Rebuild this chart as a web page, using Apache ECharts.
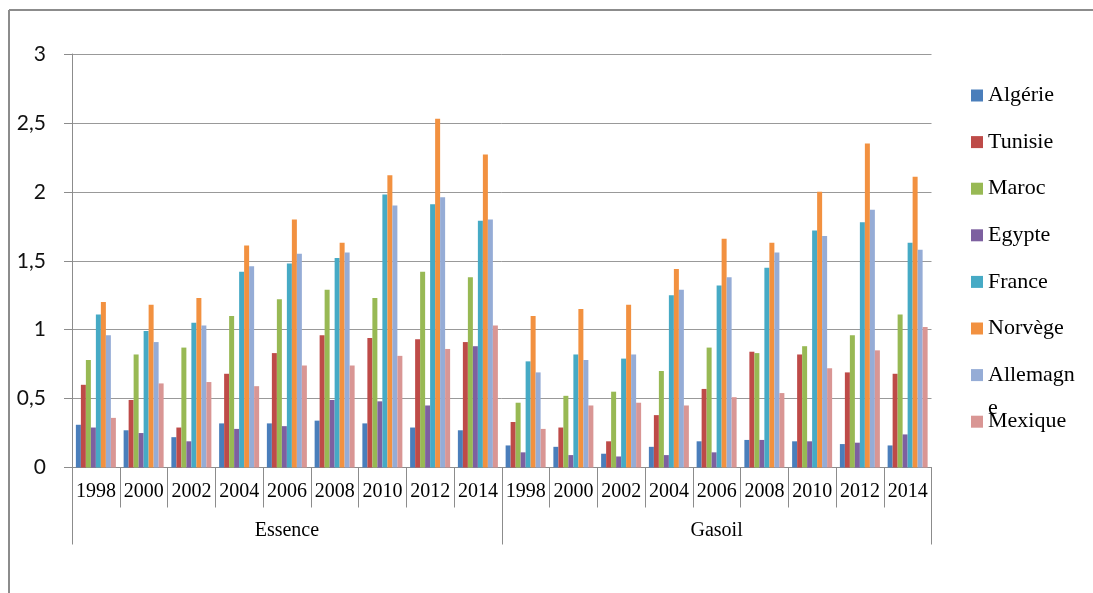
<!DOCTYPE html>
<html>
<head>
<meta charset="utf-8">
<script src="https://cdn.jsdelivr.net/npm/echarts@6/dist/echarts.min.js"></script>
<style>
html,body{margin:0;padding:0;background:#fff;}
#chart{width:1093px;height:593px;}
</style>
</head>
<body>
<div id="chart"></div>
<script>
const years = ['1998','2000','2002','2004','2006','2008','2010','2012','2014','1998','2000','2002','2004','2006','2008','2010','2012','2014'];
const groups = ['Essence','Gasoil'];
const yTicks = [0, 0.5, 1, 1.5, 2, 2.5, 3];
const countries = ['Algérie','Tunisie','Maroc','Egypte','France','Norvège','Allemagne','Mexique'];

const algerie   = [0.31,0.27,0.22,0.32,0.32,0.34,0.32,0.29,0.27, 0.16,0.15,0.10,0.15,0.19,0.20,0.19,0.17,0.16];
const tunisie   = [0.60,0.49,0.29,0.68,0.83,0.96,0.94,0.93,0.91, 0.33,0.29,0.19,0.38,0.57,0.84,0.82,0.69,0.68];
const maroc     = [0.78,0.82,0.87,1.10,1.22,1.29,1.23,1.42,1.38, 0.47,0.52,0.55,0.70,0.87,0.83,0.88,0.96,1.11];
const egypte    = [0.29,0.25,0.19,0.28,0.30,0.49,0.48,0.45,0.88, 0.11,0.09,0.08,0.09,0.11,0.20,0.19,0.18,0.24];
const france    = [1.11,0.99,1.05,1.42,1.48,1.52,1.98,1.91,1.79, 0.77,0.82,0.79,1.25,1.32,1.45,1.72,1.78,1.63];
const norvege   = [1.20,1.18,1.23,1.61,1.80,1.63,2.12,2.53,2.27, 1.10,1.15,1.18,1.44,1.66,1.63,2.00,2.35,2.11];
const allemagne = [0.96,0.91,1.03,1.46,1.55,1.56,1.90,1.96,1.80, 0.69,0.78,0.82,1.29,1.38,1.56,1.68,1.87,1.58];
const mexique   = [0.36,0.61,0.62,0.59,0.74,0.74,0.81,0.86,1.03, 0.28,0.45,0.47,0.45,0.51,0.54,0.72,0.85,1.02];

const seriesValues = [algerie, tunisie, maroc, egypte, france, norvege, allemagne, mexique];
const colors = ['#4A7EBB','#BE4B48','#98B954','#7D60A0','#46AAC5','#F29140','#95ACD6','#D99694'];

const chart = echarts.init(document.getElementById('chart'), null, {renderer:'canvas'});
const gray = '#8c8c8c';
const serif = '"Liberation Serif", "Times New Roman", serif';

const legendStep = 46.6;
const legendFirst = 95.5;
const legends = countries.map((name, i) => {
  const c = legendFirst + i * legendStep;
  const multi = name === 'Allemagne';
  return {
    data: [name],
    orient: 'vertical',
    left: 971,
    top: multi ? c - 49.5 : c - 12,
    padding: 0,
    itemWidth: 12,
    itemHeight: 12,
    itemGap: 0,
    icon: 'rect',
    selectedMode: false,
    formatter: multi ? () => '\nAllemagn\ne' : '{name}',
    textStyle: multi
      ? {fontFamily: serif, fontSize: 22, color: '#000', lineHeight: 33}
      : {fontFamily: serif, fontSize: 22, color: '#000', lineHeight: 24}
  };
});

const option = {
  animation: false,
  color: colors,
  grid: {left: 72, right: 161.5, top: 54, bottom: 125.5, containLabel: false},
  legend: legends,
  xAxis: [
    {
      type: 'category',
      data: years,
      position: 'bottom',
      axisLine: {show: true, lineStyle: {color: gray, width: 1}},
      axisTick: {show: true, length: 40, lineStyle: {color: gray}},
      axisLabel: {interval: 0, margin: 14, fontFamily: serif, fontSize: 20, color: '#000'},
      splitLine: {show: false}
    },
    {
      type: 'category',
      data: groups,
      position: 'bottom',
      axisLine: {show: false},
      axisTick: {show: true, length: 77, lineStyle: {color: gray}},
      axisLabel: {interval: 0, margin: 53, fontFamily: serif, fontSize: 20, color: '#000'},
      splitLine: {show: false}
    }
  ],
  yAxis: {
    type: 'value',
    min: yTicks[0],
    max: yTicks[yTicks.length - 1],
    interval: 0.5,
    axisLine: {show: true, lineStyle: {color: gray, width: 1}},
    axisTick: {show: true, length: 8, lineStyle: {color: gray}},
    axisLabel: {
      margin: 26, fontFamily: 'Lato, "Open Sans", sans-serif', fontSize: 21, color: '#111',
      formatter: v => String(v).replace('.', ',')
    },
    splitLine: {show: true, lineStyle: {color: '#999', width: 1}}
  },
  series: countries.map((name, i) => ({
    name: name,
    type: 'bar',
    xAxisIndex: 0,
    data: seriesValues[i],
    barWidth: 5,
    barGap: '0%',
    itemStyle: {color: colors[i]}
  })),
  graphic: [
    {type: 'line', shape: {x1: 9, y1: 10, x2: 1093, y2: 10}, style: {stroke: gray, lineWidth: 2}, silent: true},
    {type: 'line', shape: {x1: 9, y1: 10, x2: 9, y2: 593}, style: {stroke: gray, lineWidth: 2}, silent: true}
  ]
};
chart.setOption(option);
</script>
</body>
</html>
